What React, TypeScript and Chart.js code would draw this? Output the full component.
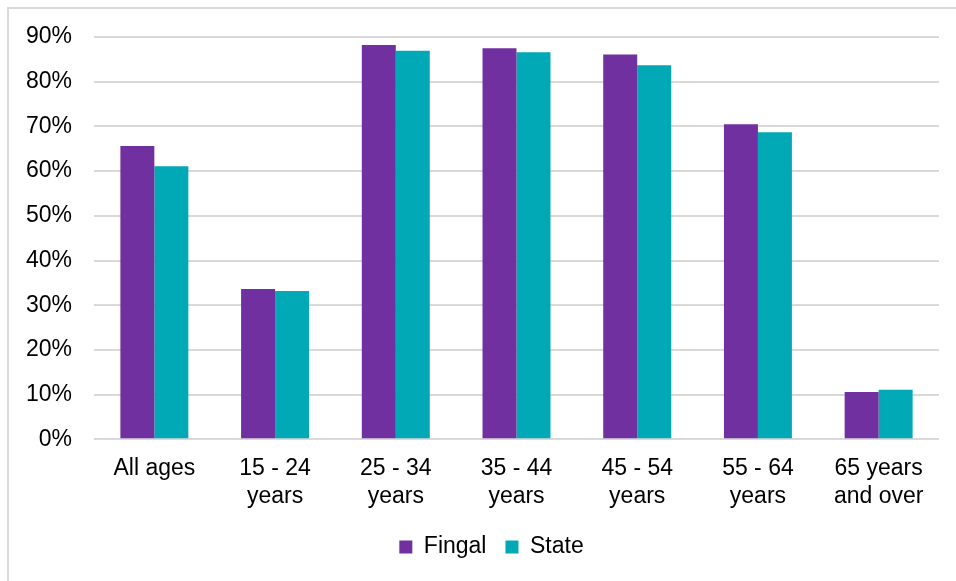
import React, { useEffect, useRef } from "react";
import { Chart, registerables } from "chart.js";

Chart.register(...registerables);

// Share of each age group in the labour force, Fingal vs State (%)
const ageGroups: string[][] = [
  ["All ages"],
  ["15 - 24", "years"],
  ["25 - 34", "years"],
  ["35 - 44", "years"],
  ["45 - 54", "years"],
  ["55 - 64", "years"],
  ["65 years", "and over"],
];
const fingalValues = [65.6, 33.6, 88.2, 87.5, 86.1, 70.5, 10.6];
const stateValues = [61.1, 33.2, 86.9, 86.6, 83.7, 68.7, 11.1];
const yTicks = [0, 10, 20, 30, 40, 50, 60, 70, 80, 90];

const FONT = "'Liberation Sans', Arial, sans-serif";
const FONT_SIZE = 23;
const PURPLE = "#7030A0";
const TEAL = "#00A9B5";
const GRID = "#D9D9D9";

// Nudges the bottom legend to the right of its default centred position
const legendShift = {
  id: "legendShift",
  afterLayout(chart: any) {
    const lg = chart.legend;
    if (!lg) return;
    lg.left += 22;
    lg.right += 22;
  },
};

export default function App() {
  const canvasRef = useRef<HTMLCanvasElement | null>(null);

  useEffect(() => {
    const canvas = canvasRef.current;
    if (!canvas) return;
    const chart = new Chart(canvas, {
      type: "bar",
      data: {
        labels: ageGroups,
        datasets: [
          {
            label: "Fingal",
            data: fingalValues,
            backgroundColor: PURPLE,
            borderWidth: 0,
            categoryPercentage: 0.563,
            barPercentage: 1,
          },
          {
            label: "State",
            data: stateValues,
            backgroundColor: TEAL,
            borderWidth: 0,
            categoryPercentage: 0.563,
            barPercentage: 1,
          },
        ],
      },
      options: {
        responsive: false,
        animation: false,
        layout: { padding: { top: 37, right: 17, bottom: 12.5, left: 0 } },
        font: { family: FONT, size: FONT_SIZE },
        scales: {
          x: {
            grid: { display: false, drawTicks: false },
            border: { display: false },
            ticks: {
              color: "#000",
              font: { family: FONT, size: FONT_SIZE },
              padding: 16,
              maxRotation: 0,
              autoSkip: false,
            },
            afterFit: (scale: any) => {
              scale.height = 77.2;
            },
          },
          y: {
            min: 0,
            max: 90,
            afterBuildTicks: (scale: any) => {
              scale.ticks = yTicks.map((v) => ({ value: v }));
            },
            grid: { color: GRID, lineWidth: 2, drawTicks: false },
            border: { display: false },
            ticks: {
              color: "#000",
              font: { family: FONT, size: FONT_SIZE },
              padding: 22,
              callback: (v: any) => `${v}%`,
            },
            afterFit: (scale: any) => {
              scale.width = 94;
            },
          },
        },
        plugins: {
          legend: {
            position: "bottom",
            labels: {
              color: "#000",
              font: { family: FONT, size: FONT_SIZE },
              boxWidth: 13,
              boxHeight: 13,
              padding: 19,
            },
          },
          tooltip: { enabled: false },
        },
      },
      plugins: [legendShift],
    });
    return () => chart.destroy();
  }, []);

  return (
    <div
      style={{
        position: "fixed",
        left: 0,
        top: 0,
        width: 956,
        height: 581,
        background: "#fff",
        overflow: "hidden",
      }}
    >
      <div
        style={{
          position: "absolute",
          left: 7,
          top: 7,
          width: 1000,
          height: 1000,
          borderTop: `2px solid ${GRID}`,
          borderLeft: `2px solid ${GRID}`,
        }}
      />
      <canvas
        ref={canvasRef}
        width={956}
        height={581}
        style={{ position: "absolute", left: 0, top: 0 }}
      />
    </div>
  );
}
